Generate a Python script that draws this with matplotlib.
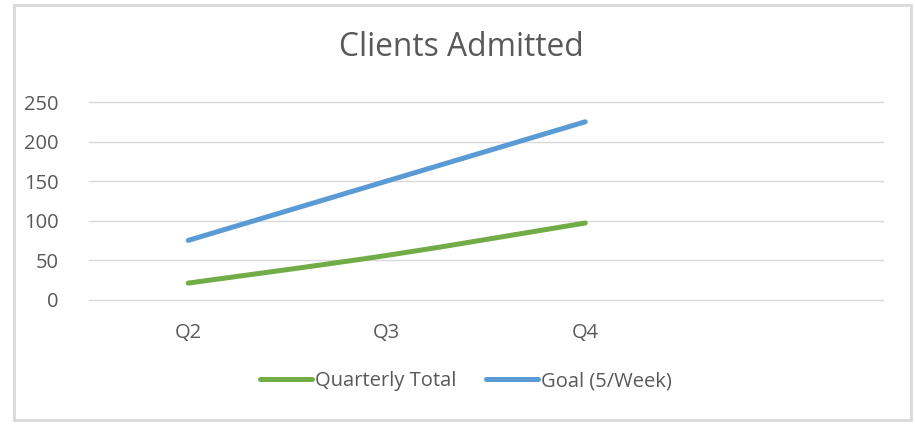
import matplotlib.pyplot as plt
from matplotlib.path import Path
from matplotlib.patches import PathPatch, Rectangle
from matplotlib.lines import Line2D

plt.rcParams['font.family'] = ['Open Sans', 'DejaVu Sans']

# data
quarters = ['Q2', 'Q3', 'Q4', '']
quarterly_total = [21, 56, 97]
goal = [75, 150, 225]

green = '#70AD47'
blue = '#5B9BD5'
text_col = '#595959'


# Excel-style smoothed line as cubic Bezier path (Catmull-Rom control points)
def smooth_path(xs, ys):
    verts = [(xs[0], ys[0])]
    codes = [Path.MOVETO]
    n = len(xs)
    for i in range(n - 1):
        x0, y0 = (xs[i - 1], ys[i - 1]) if i > 0 else (xs[i], ys[i])
        x1, y1 = xs[i], ys[i]
        x2, y2 = xs[i + 1], ys[i + 1]
        x3, y3 = (xs[i + 2], ys[i + 2]) if i + 2 < n else (x2, y2)
        c1 = (x1 + (x2 - x0) / 6, y1 + (y2 - y0) / 6)
        c2 = (x2 - (x3 - x1) / 6, y2 - (y3 - y1) / 6)
        verts += [c1, c2, (x2, y2)]
        codes += [Path.CURVE4] * 3
    return Path(verts, codes)


fig = plt.figure(figsize=(9.15, 4.24), dpi=100)
ax = fig.add_axes([89 / 915, 124.3 / 424, 794 / 915, 197.7 / 424])

x = list(range(len(quarterly_total)))
for ys, col in [(quarterly_total, green), (goal, blue)]:
    ax.add_patch(PathPatch(smooth_path(x, ys), facecolor='none', edgecolor=col,
                           lw=3.6, capstyle='round', joinstyle='round', zorder=3))

ax.set_xlim(-0.5, len(quarters) - 0.5)
ax.set_ylim(0, 250)
ax.set_yticks(range(0, 251, 50))
ax.set_xticks(range(len(quarters)))
ax.set_xticklabels(quarters)
ax.grid(axis='y', color='#d9d9d9', lw=1.0)
for gl in ax.get_ygridlines():
    gl.set_clip_on(False)
ax.set_axisbelow(True)
for s in ax.spines.values():
    s.set_visible(False)
ax.tick_params(length=0, labelsize=14.5, colors=text_col)
ax.tick_params(axis='y', pad=22)
ax.tick_params(axis='x', pad=17)

fig.text(461 / 915, 1 - 47 / 424, 'Clients Admitted', ha='center', va='center',
         fontsize=22.9, color=text_col)

handles = [Line2D([], [], color=green, lw=3.6, solid_capstyle='round'),
           Line2D([], [], color=blue, lw=3.6, solid_capstyle='round')]
fig.legend(handles, ['Quarterly Total', 'Goal (5/Week)'], loc='center',
           bbox_to_anchor=(466 / 915, 1 - 381 / 424), ncol=2, frameon=False,
           fontsize=14.5, labelcolor=text_col, handlelength=2.6,
           handletextpad=0.15, columnspacing=1.45)

fig.patches.append(Rectangle((14 / 915, 4 / 424), 897 / 915, 415 / 424,
                             transform=fig.transFigure, fill=False,
                             edgecolor='#d9d9d9', lw=2))

fig.savefig('out.png', dpi=100)
